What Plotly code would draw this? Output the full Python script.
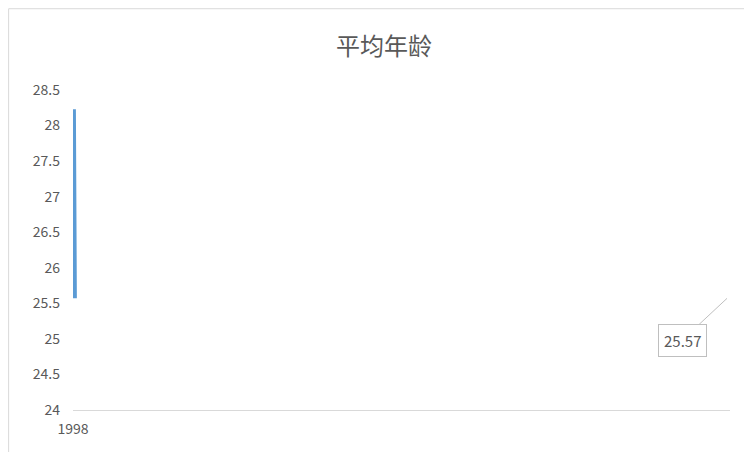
import plotly.graph_objects as go
import numpy as np

years = ["1998", "2002", "2006", "2010", "2014", "2018"]
avg_age = [26.73, 26.18, 28.23, 25.91, 25.71, 25.57]

# linear trendline like Excel
idx = np.arange(len(years))
slope, intercept = np.polyfit(idx, avg_age, 1)
trend = slope * idx + intercept

fig = go.Figure()
fig.add_trace(go.Scatter(x=years, y=avg_age, mode="lines",
                         line=dict(color="#5B9BD5", width=4.5), showlegend=False))
fig.add_trace(go.Scatter(x=years, y=trend, mode="lines",
                         line=dict(color="#5B9BD5", width=2, dash="dot"), showlegend=False))

fig.add_annotation(x=years[-1], y=avg_age[-1], text=f"{avg_age[-1]:.2f}",
                   showarrow=True, arrowhead=0, arrowcolor="#BFBFBF", arrowwidth=1,
                   ax=-45, ay=42, bordercolor="#BFBFBF", borderwidth=1, borderpad=5,
                   bgcolor="white", font=dict(size=15, color="#595959"))

fig.add_shape(type="rect", xref="paper", yref="paper", x0=-0.098, x1=1.043, y0=-0.152, y1=1.254,
              line=dict(color="#D9D9D9", width=1))

fig.update_layout(
    width=752, height=452,
    margin=dict(l=65, r=30, t=82, b=50, autoexpand=False),
    paper_bgcolor="white", plot_bgcolor="white",
    font=dict(family="Noto Sans CJK SC, Liberation Sans", color="#595959", size=14),
    title=dict(text="平均年龄", x=0.5, xanchor="center", y=0.915, yanchor="middle",
               font=dict(size=24, color="#595959")),
    xaxis=dict(type="category", showgrid=False, showline=True, linecolor="#D9D9D9",
               ticks="outside", ticklen=6, tickcolor="rgba(0,0,0,0)",
               tickfont=dict(size=14, color="#595959")),
    yaxis=dict(range=[24, 28.5], dtick=0.5, showgrid=False, zeroline=False,
               tickfont=dict(size=14, color="#595959"), ticklabelstandoff=12),
)

fig.write_html("out.html")
